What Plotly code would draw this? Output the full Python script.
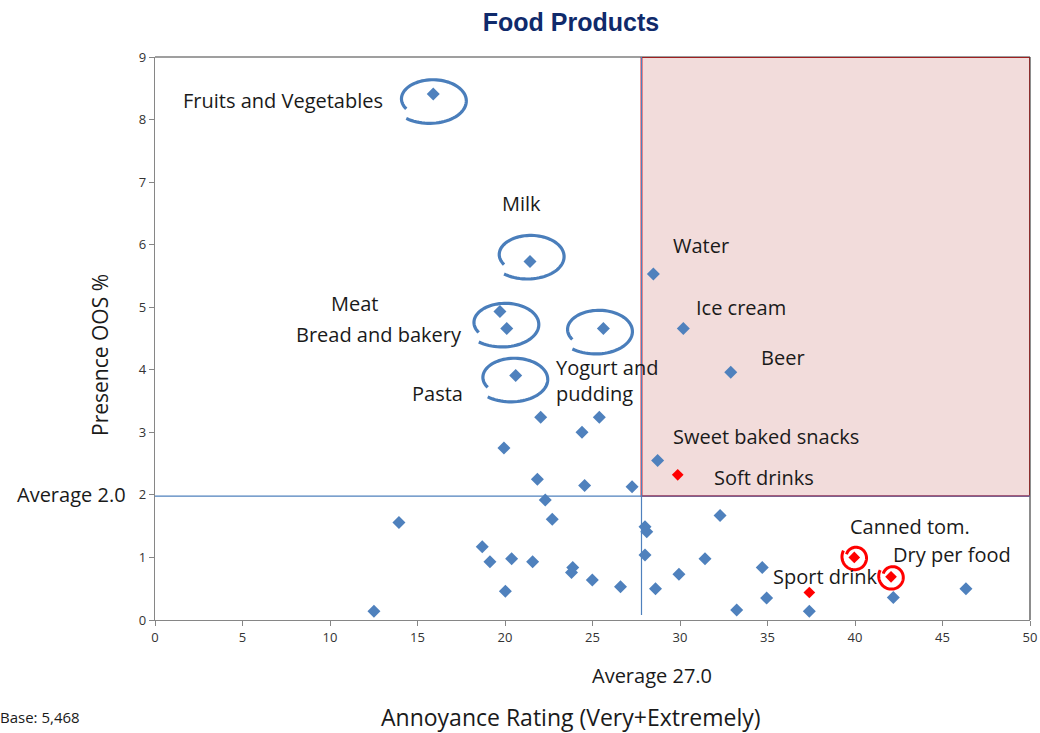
import numpy as np
import plotly.graph_objects as go

# ---------------- data ----------------
label_names = ["Fruits and Vegetables", "Milk", "Water", "Meat", "Bread and bakery",
               "Yogurt and<br>pudding", "Ice cream", "Beer", "Pasta",
               "Sweet baked snacks", "Soft drinks", "Canned tom.", "Dry per food", "Sport drink"]
label_x = [15.9, 21.43, 28.48, 19.71, 20.1, 25.62, 30.19, 32.9, 20.61, 28.72, 29.87, 39.96, 42.06, 37.39]
label_y = [8.41, 5.73, 5.53, 4.93, 4.66, 4.66, 4.66, 3.96, 3.91, 2.55, 2.32, 1.00, 0.69, 0.44]
highlight = ["Soft drinks", "Canned tom.", "Dry per food", "Sport drink"]

other_x = [22.04, 25.39, 24.4, 19.94, 21.85, 24.55, 27.26, 22.3, 22.7, 13.94, 28.0, 28.1,
           18.7, 19.14, 20.38, 21.58, 23.87, 23.8, 24.99, 26.6, 20.02, 12.51, 28.0, 32.29,
           31.43, 29.94, 34.7, 28.6, 34.95, 33.24, 37.39, 42.19, 46.34]
other_y = [3.24, 3.24, 3.0, 2.75, 2.25, 2.15, 2.13, 1.92, 1.61, 1.56, 1.49, 1.41,
           1.17, 0.93, 0.98, 0.93, 0.84, 0.76, 0.64, 0.53, 0.46, 0.14, 1.04, 1.67,
           0.98, 0.73, 0.84, 0.50, 0.35, 0.16, 0.14, 0.36, 0.50]

avg_x_line = 27.8
avg_y_line = 1.98
avg_x_text = "Average 27.0"
avg_y_text = "Average 2.0"
x_ticks = list(range(0, 51, 5))
y_ticks = list(range(0, 10))

# ---------------- layout geometry ----------------
W, H = 1040, 733
ML, MR, MT, MB = 155, 10, 57, 113
PW, PH = W - ML - MR, H - MT - MB
X0, X1, Y0, Y1 = 0, 50, 0, 9
sx = (X1 - X0) / PW      # data units per px
sy = (Y1 - Y0) / PH

FONT = "Open Sans, Noto Sans, sans-serif"
BLUE = "#4f81bd"
RED = "#ff0000"

fig = go.Figure()

# blue points
bx = other_x + [x for n, x in zip(label_names, label_x) if n not in highlight]
by = other_y + [y for n, y in zip(label_names, label_y) if n not in highlight]
fig.add_trace(go.Scatter(x=bx, y=by, mode="markers",
                         marker=dict(symbol="diamond", size=10, color=BLUE),
                         hoverinfo="x+y", showlegend=False))
rx_ = [x for n, x in zip(label_names, label_x) if n in highlight]
ry_ = [y for n, y in zip(label_names, label_y) if n in highlight]
fig.add_trace(go.Scatter(x=rx_, y=ry_, mode="markers",
                         marker=dict(symbol="diamond", size=9, color=RED),
                         hoverinfo="x+y", showlegend=False))

shapes = []
# red quadrant
shapes.append(dict(type="rect", xref="x", yref="y", x0=avg_x_line, x1=X1, y0=avg_y_line, y1=Y1,
                   fillcolor="#f2dcdb", line=dict(color="#ff0000", width=1.8), layer="below"))
# plot top/right border
shapes.append(dict(type="line", xref="paper", yref="paper", x0=0, x1=1, y0=1, y1=1,
                   line=dict(color="#404040", width=1.2)))
shapes.append(dict(type="line", xref="paper", yref="paper", x0=1, x1=1, y0=0, y1=1,
                   line=dict(color="#404040", width=1.2)))
# average lines
shapes.append(dict(type="line", xref="x", yref="y", x0=-25 * sx, x1=X1, y0=avg_y_line, y1=avg_y_line,
                   line=dict(color=BLUE, width=1.2)))
shapes.append(dict(type="line", xref="x", yref="y", x0=avg_x_line, x1=avg_x_line, y0=0.08, y1=Y1,
                   line=dict(color=BLUE, width=1.2)))


def spiral_path(cx, cy, rxp, ryp, t0, t1, r0, r1):
    t = np.radians(np.linspace(t0, t1, 80))
    k = np.linspace(r0, r1, 80)
    px = cx + k * rxp * np.cos(t) * sx
    py = cy - k * ryp * np.sin(t) * sy   # screen y down
    pts = [f"{a:.4f},{b:.4f}" for a, b in zip(px, py)]
    return "M " + " L ".join(pts)


def pt(name):
    i = label_names.index(name)
    return label_x[i], label_y[i]


# hand-drawn blue loops: (point, center offset px dx, dy (down))
loops = [("Fruits and Vegetables", -2, 6), ("Milk", -1, -6), ("Bread and bakery", -3, -5),
         ("Yogurt and<br>pudding", -6, 2), ("Pasta", -3, 3)]
for name, dx, dy in loops:
    x, y = pt(name)
    cx, cy = x + dx * sx, y - dy * sy
    shapes.append(dict(type="path", xref="x", yref="y",
                       path=spiral_path(cx, cy, 37, 23, 150, 490, 0.78, 1.05),
                       line=dict(color="#4a7ebb", width=3.2)))
# red loops
for name in ["Canned tom.", "Dry per food"]:
    x, y = pt(name)
    shapes.append(dict(type="path", xref="x", yref="y",
                       path=spiral_path(x + 1 * sx, y, 13, 13, 200, 570, 0.72, 1.05),
                       line=dict(color="#ff0000", width=3)))

# point labels: (xshift, yshift, xanchor)
label_pos = {
    "Fruits and Vegetables": (-48, -7, "right"),
    "Milk": (-9, 58, "center"),
    "Water": (18, 29, "left"),
    "Meat": (-145, 8, "center"),
    "Bread and bakery": (-43, -6, "right"),
    "Yogurt and<br>pudding": (-49, -52, "left"),
    "Ice cream": (11, 21, "left"),
    "Beer": (28, 15, "left"),
    "Pasta": (-51, -18, "right"),
    "Sweet baked snacks": (13, 24, "left"),
    "Soft drinks": (34, -3, "left"),
    "Canned tom.": (-6, 31, "left"),
    "Dry per food": (0, 22, "left"),
    "Sport drink": (-38, 16, "left"),
}
TXT = "#1a1a1a"
LS = 20
annotations = []
for n, x, y in zip(label_names, label_x, label_y):
    xs, ys, xa = label_pos[n]
    annotations.append(dict(x=x, y=y, xref="x", yref="y", text=n, showarrow=False,
                            xshift=xs, yshift=ys, xanchor=xa, yanchor="middle", align="left",
                            font=dict(family=FONT, size=LS, color=TXT)))

annotations.append(dict(x=0, y=avg_y_line, xref="x", yref="y", text=avg_y_text, showarrow=False,
                        xshift=-27, yshift=2, xanchor="right", yanchor="middle",
                        font=dict(family=FONT, size=LS, color=TXT)))
annotations.append(dict(x=avg_x_line, y=0, xref="x", yref="y", text=avg_x_text, showarrow=False,
                        xshift=10, yshift=-55, xanchor="center", yanchor="middle",
                        font=dict(family=FONT, size=LS, color=TXT)))
annotations.append(dict(x=0, y=0, xref="paper", yref="paper", text="Base: 5,468",
                        showarrow=False, xshift=-ML - 2, yshift=-(717 - (H - MB)),
                        xanchor="left", yanchor="middle",
                        font=dict(family=FONT, size=15, color=TXT)))
# axis titles
annotations.append(dict(x=(571 - ML) / PW, y=0, xref="paper", yref="paper",
                        text="Annoyance Rating (Very+Extremely)", showarrow=False,
                        yshift=-(717 - (H - MB)), xanchor="center", yanchor="middle",
                        font=dict(family=FONT, size=23, color=TXT)))
annotations.append(dict(x=0, y=(H - MB - 355) / PH, xref="paper", yref="paper",
                        text="Presence OOS %", showarrow=False, textangle=-90,
                        xshift=-(ML - 100), xanchor="center", yanchor="middle",
                        font=dict(family=FONT, size=21, color=TXT)))

fig.update_layout(
    width=W, height=H,
    margin=dict(l=ML, r=MR, t=MT, b=MB, autoexpand=False),
    paper_bgcolor="white", plot_bgcolor="white",
    title=dict(text="<b>Food Products</b>", x=571 / W, xref="container", xanchor="center",
               y=1 - 22 / H, yref="container", yanchor="middle",
               font=dict(family="Liberation Sans, Arial, sans-serif", size=25, color="#0f2a6b")),
    shapes=shapes, annotations=annotations, showlegend=False,
    xaxis=dict(range=[X0, X1], tickvals=x_ticks, showgrid=False, zeroline=False,
               showline=True, linecolor="#868686", linewidth=1.2, automargin=False,
               ticks="outside", ticklen=5, tickcolor="#868686",
               tickfont=dict(family=FONT, size=13, color="#333333")),
    yaxis=dict(range=[Y0, Y1], tickvals=y_ticks, showgrid=False, zeroline=False,
               showline=True, linecolor="#868686", linewidth=1.2, automargin=False,
               ticks="outside", ticklen=5, tickcolor="#868686",
               tickfont=dict(family=FONT, size=13, color="#333333")),
)

fig.write_html("out.html", config={"displayModeBar": False},
               post_script="document.body.style.margin='0';")
